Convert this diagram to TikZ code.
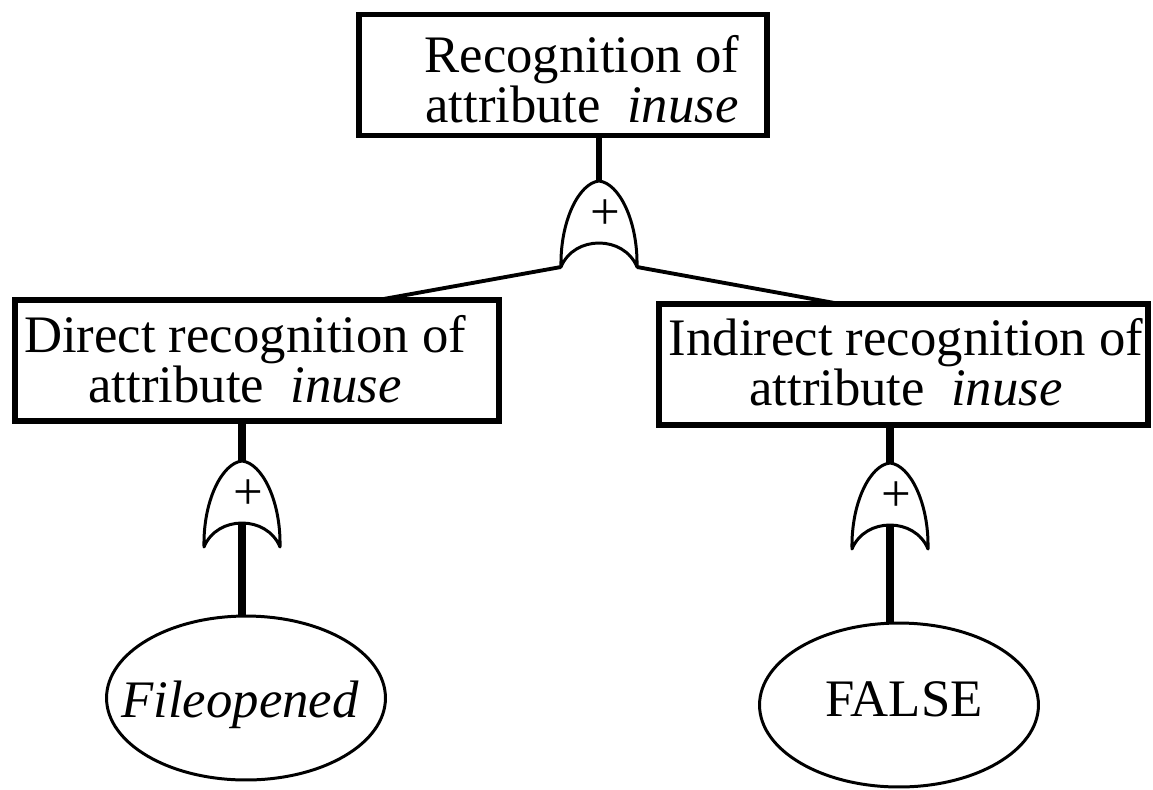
\documentclass[tikz,border=0pt]{standalone}
\usepackage{fontspec}
\setmainfont{Liberation Serif}
\usetikzlibrary{shapes.geometric}
\tikzset{
  txt/.style={font=\fontsize{30}{28.5}\selectfont, align=center, inner sep=0pt},
  box/.style={draw, line width=3.1pt, minimum width=#1, minimum height=121*0.569pt, inner sep=0pt},
  oval/.style={draw, ellipse, line width=1.7pt, minimum width=279*0.569pt, minimum height=164*0.569pt, inner sep=0pt},
  conn/.style={line width=2.2pt},
  stemA/.style={line width=3.4pt},
  stemB/.style={line width=5pt},
  stemC/.style={line width=4.2pt},
  orgate/.pic={
    \draw[line width=1.7pt, line join=round]
      (-38,86) .. controls (-39,40) and (-20,2) .. (0,0)
      .. controls (20,2) and (39,40) .. (38,86)
      .. controls (25,54) and (-25,54) .. (-38,86) -- cycle;
    \node[font=\fontsize{30}{30}\selectfont, inner sep=0pt] (-plus) at (6,34) {+};
    \coordinate (-top) at (0,0);
    \coordinate (-left) at (-38,86);
    \coordinate (-right) at (38,86);
    \coordinate (-in) at (0,62);
  }
}
\begin{document}
\begin{tikzpicture}[x=0.02cm,y=-0.02cm]
\useasboundingbox (0,0) rectangle (1153,789);

% boxes
\node[box=408*0.569pt, label={[txt, xshift=10.8pt, yshift=-2.3pt]center:{Recognition of\\attribute~ \textit{inuse}}}] (top) at (563,75) {};
\node[box=484*0.569pt, label={[txt, xshift=-6.8pt, yshift=0.85pt]center:{Direct recognition of\\attribute~ \textit{inuse}}}] (left) at (257,360.5) {};
\node[box=489*0.569pt, label={[txt, xshift=1.4pt, yshift=1.4pt]center:{Indirect recognition of\\attribute~ \textit{inuse}}}] (right) at (903.5,364.5) {};

% leaves
\node[oval, label={[txt, xshift=-3.4pt, yshift=-4pt]center:{\textit{Fileopened}}}] (e1) at (246,698) {};
\node[oval, label={[txt, xshift=2.8pt, yshift=3.1pt]center:{FALSE}}] (e2) at (899,705) {};

% gates
\pic (g0) at (599,181) {orgate};
\pic (g1) at (242,461) {orgate};
\pic (g2) at (890,463) {orgate};

% join points on the box tops
\coordinate (ljoin) at (378,300);
\coordinate (rjoin) at (840,304);

% connectors
\draw[stemA] (g0-top |- top.south) -- (g0-top);
\draw[conn] (g0-left) -- (ljoin);
\draw[conn] (g0-right) -- (rjoin);

\draw[stemB] (g1-top |- left.south) -- (g1-top);
\draw[stemB] (g1-in) -- (g1-in |- e1.north);

\draw[stemC] (g2-top |- right.south) -- (g2-top);
\draw[stemC] (g2-in) -- (g2-in |- e2.north);
\end{tikzpicture}
\end{document}
